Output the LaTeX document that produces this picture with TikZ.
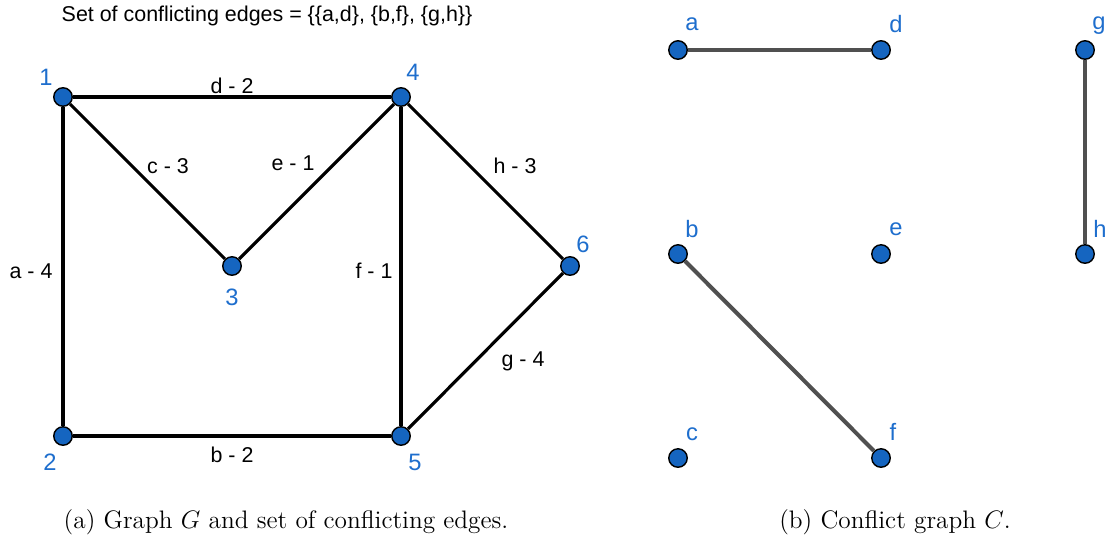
\documentclass[tikz,border=0pt]{standalone}
\usepackage{fontspec}
\newfontfamily\lblfont{Liberation Sans}
\definecolor{vblue}{RGB}{21,101,192}
\definecolor{lblue}{RGB}{30,110,205}
\definecolor{cgray}{RGB}{80,80,80}

\begin{document}
\begin{tikzpicture}[x=0.02cm,y=-0.02cm,
  vtx/.style={circle,draw=black,fill=vblue,line width=0.8pt,inner sep=0pt,minimum size=0.37cm},
  vlbl/.style={text=lblue,font=\lblfont\fontsize{13.5}{15}\selectfont,inner sep=0pt},
  elbl/.style={font=\lblfont\fontsize{12.2}{14}\selectfont,inner sep=0pt},
  gedge/.style={black,line width=1.8pt},
  cedge/.style={cgray,line width=2.3pt},
  capt/.style={font=\fontsize{14.4}{17}\selectfont,inner sep=0pt}]
  \useasboundingbox (0,0) rectangle (1114,542);
  % grafo G
  \node[elbl] (title) at (267,16) {Set of conflicting edges = \{\{a,d\}, \{b,f\}, \{g,h\}\}};
  \node[vtx] (n1) at (63,97) {};
  \node[vtx] (n4) at (401,97) {};
  \node[vtx] (n3) at (232,266) {};
  \node[vtx] (n6) at (570,266) {};
  \node[vtx] (n2) at (63,436) {};
  \node[vtx] (n5) at (401,436) {};
  \draw[gedge] (n1)--(n4);
  \draw[gedge] (n1)--(n3);
  \draw[gedge] (n3)--(n4);
  \draw[gedge] (n4)--(n6);
  \draw[gedge] (n1)--(n2);
  \draw[gedge] (n4)--(n5);
  \draw[gedge] (n5)--(n6);
  \draw[gedge] (n2)--(n5);
  \node[vlbl] at (46,77){1};
  \node[vlbl] at (413,72){4};
  \node[vlbl] at (232,297){3};
  \node[vlbl] at (583,244){6};
  \node[vlbl] at (50,462){2};
  \node[vlbl] at (415,462){5};
  \node[elbl] at (232,86){d - 2};
  \node[elbl] at (168,166){c - 3};
  \node[elbl] at (293,163){e - 1};
  \node[elbl] at (515,166){h - 3};
  \node[elbl] at (31,271){a - 4};
  \node[elbl] at (374,271){f - 1};
  \node[elbl] at (523,361){g - 4};
  \node[elbl] at (232,455){b - 2};
  % grafo de conflictos C
  \node[vtx] (a) at (678,50) {};
  \node[vtx] (d) at (881,50) {};
  \node[vtx] (g) at (1085,50) {};
  \node[vtx] (b) at (678,254) {};
  \node[vtx] (e) at (881,254) {};
  \node[vtx] (h) at (1085,254) {};
  \node[vtx] (c) at (678,458) {};
  \node[vtx] (f) at (881,458) {};
  \draw[cedge] (a)--(d);
  \draw[cedge] (g)--(h);
  \draw[cedge] (b)--(f);
  \node[vlbl] at (692,24){a};
  \node[vlbl] at (896,24){d};
  \node[vlbl] at (1099,26){g};
  \node[vlbl] at (692,229){b};
  \node[vlbl] at (896,229){e};
  \node[vlbl] at (1100,229){h};
  \node[vlbl] at (692,434){c};
  \node[vlbl] at (893,432){f};
  % subtitulos
  \node[capt] at (286,522){(a) Graph $G$ and set of conflicting edges.};
  \node[capt] at (895,522){(b) Conflict graph $C$.};
\end{tikzpicture}
\end{document}
